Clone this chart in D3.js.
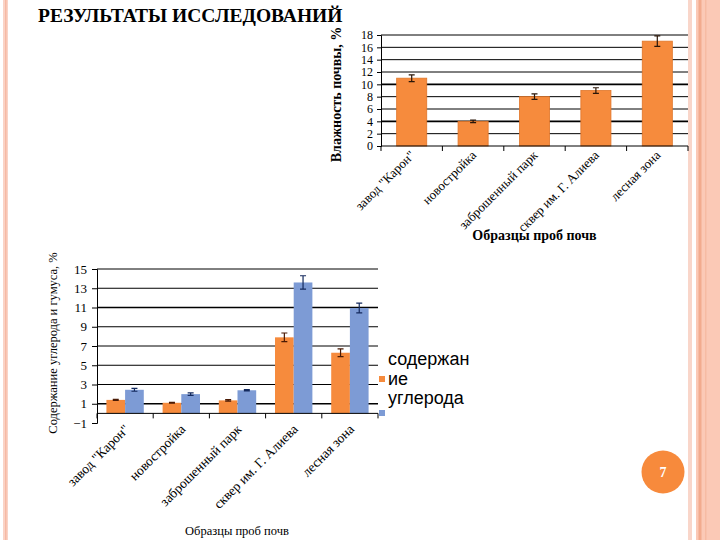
<!DOCTYPE html>
<html><head><meta charset="utf-8">
<script src="https://cdn.jsdelivr.net/npm/d3@7"></script>
<style>body{margin:0;background:#fff}svg{display:block}</style>
</head><body>
<svg id="c" width="720" height="540"></svg>
<script>
const categories = ['завод "Карон"', 'новостройка', 'заброшенный парк', 'сквер им. Г. Алиева', 'лесная зона'];
const moisture = [11, 4, 8, 9, 17];
const moistureErr = [0.55, 0.2, 0.45, 0.45, 0.85];
const carbon = [1.4, 1.1, 1.35, 7.9, 6.3];
const carbonErr = [0.05, 0.05, 0.07, 0.45, 0.4];
const humus = [2.45, 2.0, 2.4, 13.6, 10.95];
const humusErr = [0.15, 0.12, 0.07, 0.7, 0.5];
const ticks1 = [0, 2, 4, 6, 8, 10, 12, 14, 16, 18];
const ticks2 = [-1, 1, 3, 5, 7, 9, 11, 13, 15];
const titleText = "РЕЗУЛЬТАТЫ ИССЛЕДОВАНИЙ";
const yTitle1 = "Влажность почвы, %";
const yTitle2 = "Содержание углерода и гумуса, %";
const xTitle = "Образцы проб почв";
const legendLines = ["содержан", "ие", "углерода"];
const pageNum = "7";

const ORANGE = "#f68b3d", BLUE = "#7d9bd5";
const serif = "Liberation Serif, Times New Roman, serif";
const sans = "Liberation Sans, Arial, sans-serif";
const svg = d3.select("#c");

// slide decoration
svg.append("rect").attr("x",3).attr("y",0).attr("width",5).attr("height",540).attr("fill","#fad3c6");
svg.append("rect").attr("x",5).attr("y",0).attr("width",1.5).attr("height",540).attr("fill","#f6b9a4");
svg.append("rect").attr("x",688).attr("y",0).attr("width",4).attr("height",540).attr("fill","#f9d6ca");
svg.append("rect").attr("x",696).attr("y",0).attr("width",24).attr("height",540).attr("fill","#fbc9b6");
svg.append("rect").attr("x",698.5).attr("y",0).attr("width",3).attr("height",540).attr("fill","#f2ab8e");
svg.append("rect").attr("x",705).attr("y",0).attr("width",1.5).attr("height",540).attr("fill","#f6bba3");

svg.append("text").attr("x",38).attr("y",22).style("font-family",serif).style("font-weight","bold")
  .style("font-size","19.5px").attr("fill","#000").text(titleText);

// ---------- Chart 1 ----------
{
  const L=381,R=688,T=35,B=146;
  const x = d3.scaleBand().domain(categories).range([L,R]).paddingInner(0.51).paddingOuter(0.255);
  const y = d3.scaleLinear().domain([0,18]).range([B,T]);
  const g = svg.append("g");
  g.selectAll(".grid").data(ticks1.filter(t=>t>0)).join("line")
    .attr("x1",L).attr("x2",R).attr("y1",d=>y(d)).attr("y2",d=>y(d))
    .attr("stroke","#000").attr("stroke-width",d=>(d===10||d===4)?1.6:1);
  const ya = d3.axisLeft(y).tickValues(ticks1).tickSize(4).tickFormat(d3.format("d"));
  const yg = g.append("g").attr("transform",`translate(${L},0)`).call(ya);
  yg.select(".domain").attr("stroke","#000");
  yg.selectAll("text").style("font-family",serif).style("font-size","12px").attr("fill","#000").attr("dx",-1);
  g.selectAll(".bar").data(categories).join("rect")
    .attr("x",d=>x(d)).attr("width",x.bandwidth())
    .attr("y",(d,i)=>y(moisture[i])).attr("height",(d,i)=>y(0)-y(moisture[i]))
    .attr("fill",ORANGE).attr("stroke","#e0762a").attr("stroke-width",0.8);
  categories.forEach((c,i)=>{
    const cx=x(c)+x.bandwidth()/2, lo=y(moisture[i]-moistureErr[i]), hi=y(moisture[i]+moistureErr[i]);
    g.append("path").attr("d",`M${cx},${lo}V${hi}M${cx-3},${lo}H${cx+3}M${cx-3},${hi}H${cx+3}`)
      .attr("stroke","#2a1608").attr("stroke-width",1.2).attr("fill","none");
  });
  g.append("line").attr("x1",L).attr("x2",R).attr("y1",B).attr("y2",B).attr("stroke","#000");
  const step=x.step();
  d3.range(categories.length+1).forEach(i=>{
    g.append("line").attr("x1",L+i*step).attr("x2",L+i*step).attr("y1",B).attr("y2",B+5).attr("stroke","#000");
  });
  categories.forEach(c=>{
    const cx=x(c)+x.bandwidth()/2;
    g.append("text").attr("transform",`translate(${cx+4},${B+10}) rotate(-45)`)
      .attr("text-anchor","end").style("font-family",serif).style("font-size","13px").attr("fill","#000").text(c);
  });
  g.append("text").attr("transform",`translate(341,${(T+B)/2+4}) rotate(-90)`).attr("text-anchor","middle")
    .style("font-family",serif).style("font-weight","bold").style("font-size","14px").text(yTitle1);
  g.append("text").attr("x",(L+R)/2).attr("y",240).attr("text-anchor","middle")
    .style("font-family",serif).style("font-weight","bold").style("font-size","14px").text(xTitle);
}

// ---------- Chart 2 ----------
{
  const L=97,R=378,T=269,B=423;
  const x = d3.scaleBand().domain(categories).range([L,R]).paddingInner(0.335).paddingOuter(0.1675);
  const xs = d3.scaleBand().domain(["carbon","humus"]).range([0,x.bandwidth()]);
  const y = d3.scaleLinear().domain([-1,15]).range([B,T]);
  const g = svg.append("g");
  g.selectAll(".grid").data(ticks2.filter(t=>t>-1)).join("line")
    .attr("x1",L).attr("x2",R).attr("y1",d=>y(d)).attr("y2",d=>y(d))
    .attr("stroke","#000").attr("stroke-width",d=>(d===11||d===1)?1.6:1);
  const ya = d3.axisLeft(y).tickValues(ticks2).tickSize(5).tickFormat(d3.format("d"));
  const yg = g.append("g").attr("transform",`translate(${L},0)`).call(ya);
  yg.select(".domain").attr("stroke","#000");
  yg.selectAll("text").style("font-family",serif).style("font-size","13px").attr("fill","#000").attr("dx",-2);
  const series=[{k:"carbon",v:carbon,e:carbonErr,c:ORANGE,ec:"#4a1a05"},{k:"humus",v:humus,e:humusErr,c:BLUE,ec:"#142a5e"}];
  series.forEach(s=>{
    g.selectAll(".b"+s.k).data(categories).join("rect")
      .attr("x",d=>x(d)+xs(s.k)).attr("width",xs.bandwidth())
      .attr("y",(d,i)=>y(s.v[i])).attr("height",(d,i)=>y(0)-y(s.v[i])).attr("fill",s.c);
    categories.forEach((c,i)=>{
      const cx=x(c)+xs(s.k)+xs.bandwidth()/2, lo=y(s.v[i]-s.e[i]), hi=y(s.v[i]+s.e[i]);
      g.append("path").attr("d",`M${cx},${lo}V${hi}M${cx-3},${lo}H${cx+3}M${cx-3},${hi}H${cx+3}`)
        .attr("stroke",s.ec).attr("stroke-width",1.2).attr("fill","none");
    });
  });
  g.append("line").attr("x1",L).attr("x2",R).attr("y1",y(0)).attr("y2",y(0)).attr("stroke","#000");
  const step=x.step();
  d3.range(categories.length+1).forEach(i=>{
    g.append("line").attr("x1",L+i*step).attr("x2",L+i*step).attr("y1",y(0)).attr("y2",y(0)+5).attr("stroke","#000");
  });
  categories.forEach(c=>{
    const cx=x(c)+x.bandwidth()/2;
    g.append("text").attr("transform",`translate(${cx+5},${B+7}) rotate(-45)`)
      .attr("text-anchor","end").style("font-family",serif).style("font-size","13.5px").attr("fill","#000").text(c);
  });
  g.append("text").attr("transform",`translate(57,${(T+B)/2-3}) rotate(-90)`).attr("text-anchor","middle")
    .style("font-family",serif).style("font-size","12.5px").text(yTitle2);
  g.append("text").attr("x",237).attr("y",535).attr("text-anchor","middle")
    .style("font-family",serif).style("font-size","12.5px").text(xTitle);
  // legend
  const lg = svg.append("g");
  legendLines.forEach((t,i)=>{
    lg.append("text").attr("x",388).attr("y",365+i*19.5).style("font-family",sans).style("font-size","18px").attr("fill","#000").text(t);
  });
  lg.append("rect").attr("x",379).attr("y",376).attr("width",6).attr("height",6).attr("fill",ORANGE);
  lg.append("rect").attr("x",379).attr("y",410).attr("width",6).attr("height",6).attr("fill",BLUE);
}

// page number
svg.append("circle").attr("cx",663).attr("cy",472).attr("r",21.5).attr("fill","#f78a3c");
svg.append("text").attr("x",663).attr("y",477).attr("text-anchor","middle").style("font-family",serif)
  .style("font-weight","bold").style("font-size","14px").attr("fill","#fff").text(pageNum);
</script>
</body></html>
